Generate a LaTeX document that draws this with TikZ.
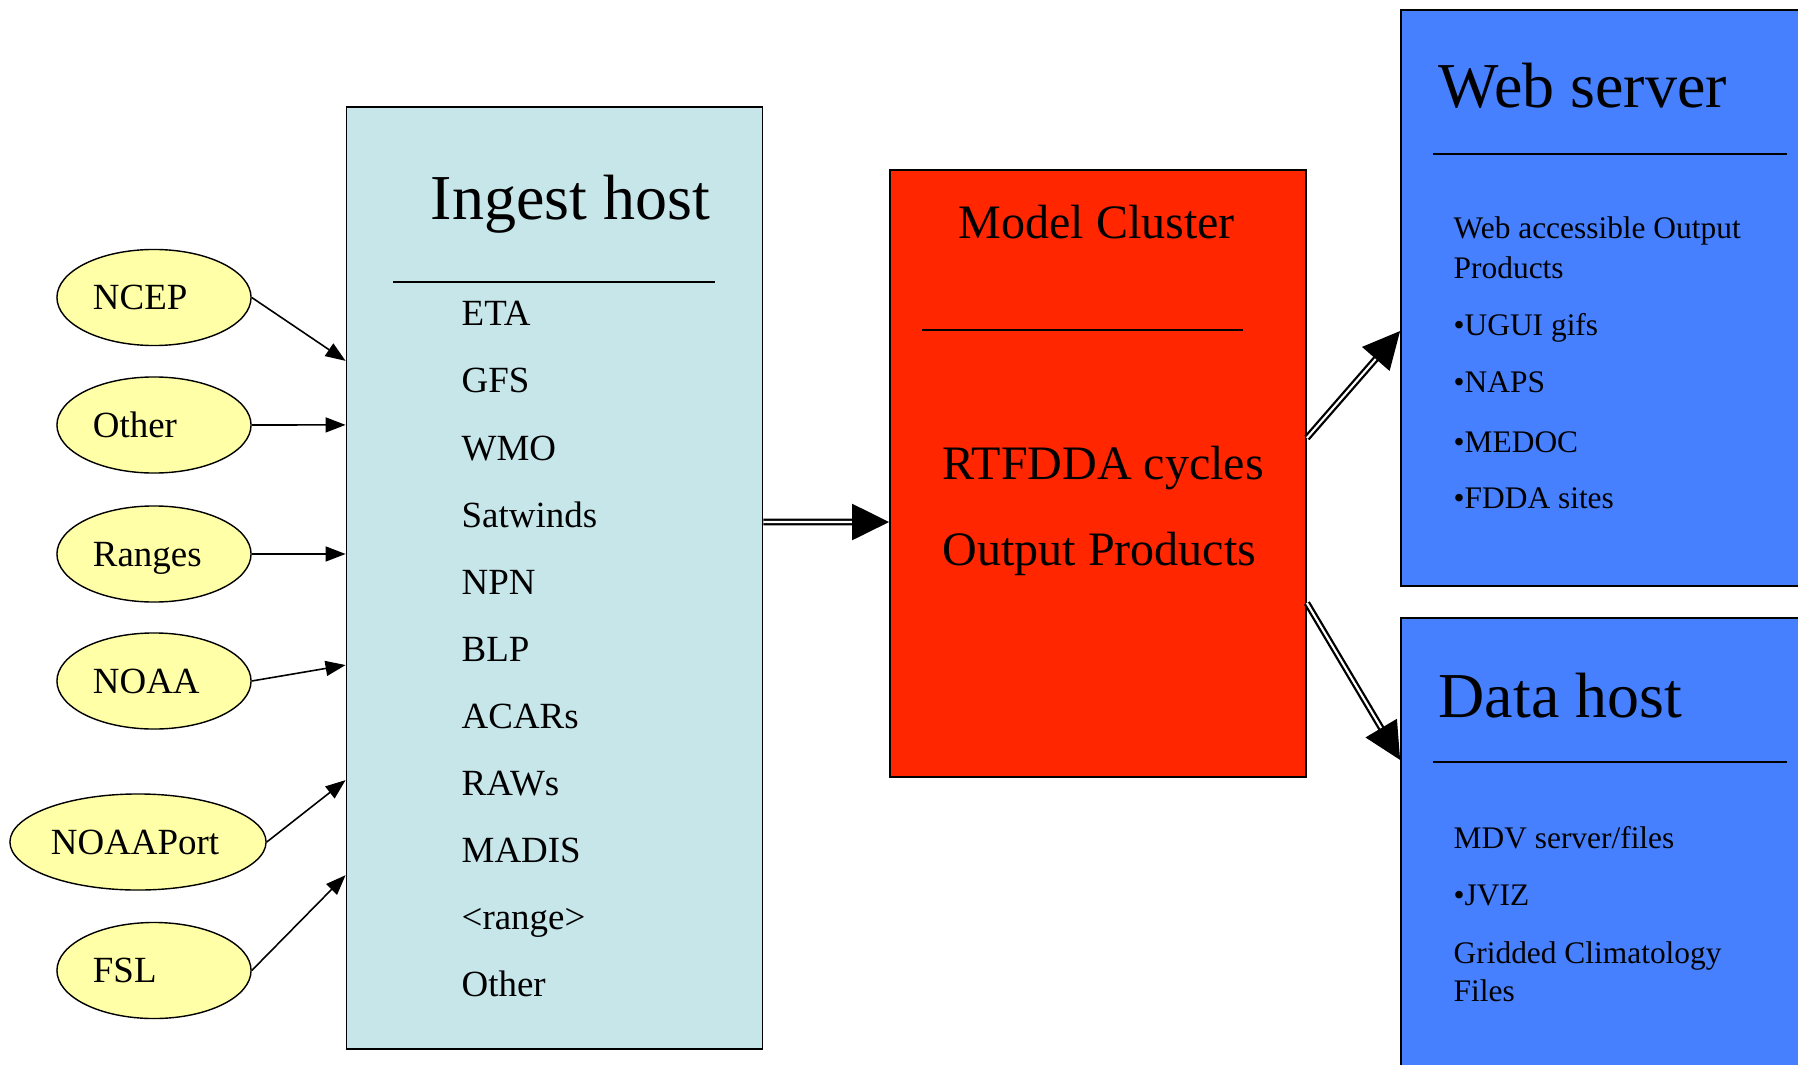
\documentclass[tikz,border=0pt]{standalone}
\usepackage{fontspec}
\setmainfont{Liberation Serif}
\usetikzlibrary{shapes.geometric,arrows.meta}

\definecolor{ingestblue}{HTML}{C6E6EA}
\definecolor{modelred}{HTML}{FF2600}
\definecolor{hostblue}{HTML}{4680FF}
\definecolor{srcyellow}{HTML}{FFFFA8}

\begin{document}
\begin{tikzpicture}[x=0.01cm,y=-0.01cm]
	\tikzstyle{src}=[draw,shape=ellipse,fill=srcyellow,line width=0.4pt,inner sep=0pt,align=left,minimum width=1.94cm,minimum height=0.96cm,text width=1.22cm,text height=0.245cm,text depth=0cm,font=\fontsize{10.5}{12}\selectfont]
	\tikzstyle{host}=[draw,line width=0.45pt,inner sep=0pt]
	\tikzstyle{title}=[anchor=base west,inner sep=0pt,font=\fontsize{18.2}{21}\selectfont]
	\tikzstyle{item}=[anchor=base west,inner sep=0pt,font=\fontsize{10.5}{12}\selectfont]
	\tikzstyle{mid}=[anchor=base west,inner sep=0pt,font=\fontsize{13.66}{16}\selectfont]
	\tikzstyle{web}=[anchor=base west,inner sep=0pt,font=\fontsize{8.93}{11}\selectfont]
	\tikzstyle{feed}=[-{Triangle[length=0.2cm,width=0.15cm]},line width=0.45pt]
	\tikzstyle{pipe}=[-{Triangle[length=0.37cm,width=0.36cm]},double,double distance=0.6pt,line width=0.65pt]

	\clip (0,0) rectangle (1798,1064);

	% boxes
	\node[host,fill=ingestblue,minimum width=4.16cm,minimum height=9.42cm](ingest) at (554.5,578){};
	\node[host,fill=modelred,minimum width=4.16cm,minimum height=6.07cm](model) at (1098,473.5){};
	\node[host,fill=hostblue,minimum width=4.29cm,minimum height=5.76cm](web) at (1615.5,298){};
	\node[host,fill=hostblue,minimum width=4.29cm,minimum height=4.72cm](data) at (1615.5,854){};

	% sources
	\node[src](ncep) at (154,297.5){NCEP};
	\node[src](other) at (154,425){Other};
	\node[src](ranges) at (154,554){Ranges};
	\node[src](noaa) at (154,681){NOAA};
	\node[src,minimum width=2.56cm,text width=1.74cm](noaaport) at (138,842){NOAAPort};
	\node[src](fsl) at (154,970.5){FSL};

	% ingest host
	\node[title](ingesttitle) at (430,220){Ingest host};
	\draw[line width=0.45pt] (393,282) -- (715,282);
	\node[item](i1) at (461,326){ETA};
	\node[item](i2) at (461,393){GFS};
	\node[item](i3) at (461,460){WMO};
	\node[item](i4) at (461,527){Satwinds};
	\node[item](i5) at (461,594){NPN};
	\node[item](i6) at (461,661){BLP};
	\node[item](i7) at (461,728){ACARs};
	\node[item](i8) at (461,795){RAWs};
	\node[item](i9) at (461,862){MADIS};
	\node[item](i10) at (461,929){<range>};
	\node[item](i11) at (461,996){Other};

	% model cluster
	\node[mid](modeltitle) at (958,239){Model Cluster};
	\draw[line width=0.45pt] (922,330) -- (1243,330);
	\node[mid](m1) at (942,479){RTFDDA cycles};
	\node[mid](m2) at (942,565){Output Products};

	% web server
	\node[title](webtitle) at (1438,108){Web server};
	\draw[line width=0.45pt] (1433,154) -- (1787,154);
	\node[web](w1) at (1453,239){Web accessible Output};
	\node[web](w2) at (1453,278){Products};
	\node[web](w3) at (1453,335){\textbullet UGUI gifs};
	\node[web](w4) at (1453,393){\textbullet NAPS};
	\node[web](w5) at (1453,452){\textbullet MEDOC};
	\node[web](w6) at (1453,508){\textbullet FDDA sites};

	% data host
	\node[title](datatitle) at (1438,717){Data host};
	\draw[line width=0.45pt] (1433,762) -- (1787,762);
	\node[web](d1) at (1453,848){MDV server/files};
	\node[web](d2) at (1453,905){\textbullet JVIZ};
	\node[web](d3) at (1453,963){Gridded Climatology};
	\node[web](d4) at (1453,1001){Files};

	\draw[feed] (ncep.east) -- ([yshift=2.17cm]ingest.west);
	\draw[feed] (other.east) -- ([yshift=1.53cm]ingest.west);
	\draw[feed] (ranges.east) -- ([yshift=0.24cm]ingest.west);
	\draw[feed] (noaa.east) -- ([yshift=-0.87cm]ingest.west);
	\draw[feed] (noaaport.east) -- ([yshift=-2.02cm]ingest.west);
	\draw[feed] (fsl.east) -- ([yshift=-2.97cm]ingest.west);

	\draw[pipe] ([yshift=0.56cm]ingest.east) -- ([yshift=-0.485cm]model.west);
	\draw[pipe] ([yshift=0.355cm]model.east) -- ([yshift=-0.33cm]web.west);
	\draw[pipe] ([yshift=-1.295cm]model.east) -- ([yshift=0.94cm]data.west);

\end{tikzpicture}
\end{document}
